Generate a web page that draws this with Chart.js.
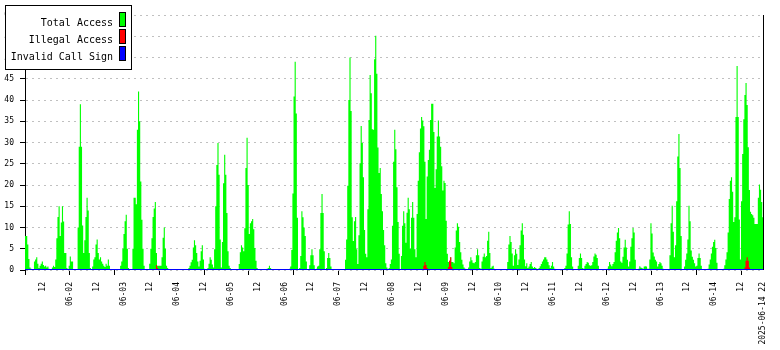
<!DOCTYPE html>
<html>
<head>
<meta charset="utf-8">
<title>Access log</title>
<script src="https://cdn.jsdelivr.net/npm/chart.js@4.4.1/dist/chart.umd.min.js"></script>
<style>
    html, body { margin: 0; padding: 0; background: #fff; }
    #wrap { width: 780px; height: 350px; }
</style>
</head>
<body>
<div id="wrap"><canvas id="accessChart" width="780" height="350"></canvas></div>
<script>
(function () {
    'use strict';

    // Total access, one value per half hour. First bin starts 06-01 04:00.
    const firstBinHour = 4;
    const binHours = 0.5;

    const total0601 = [8, 8, 6, 2.6, 0.6, 0.3, 0, 0, 2, 2.5, 3, 1.5, 0.5, 1, 1.5, 2, 1.2, 0.8, 1, 0.6,
        0.8, 0.3, 0, 0, 0.6, 1, 0.7, 2.5, 7.5, 12.5, 15, 8, 11.2, 15, 11.4, 4, 4, 0.5, 0, 1];
    const total0602 = [3.2, 2, 2, 0, 0, 0, 0, 10, 29, 39, 29, 10.5, 4, 7, 12.5, 17, 14, 4, 0.5, 0,
        0.8, 2.5, 3, 6, 7.2, 4, 2.5, 3, 2, 1.5, 1, 0.7, 1.5, 1, 2.5, 1, 0, 0, 0, 0,
        0, 0, 0, 0, 0, 1, 2, 5];
    const total0603 = [8.5, 11.5, 13, 5, 0.5, 0, 0, 0, 5, 17, 17, 15.5, 33, 42, 35, 20.8, 11.8, 5, 1, 0,
        0, 0, 0, 1.5, 5, 7.5, 12.5, 14.5, 16, 4, 1, 1, 1, 1, 3, 7.6, 10, 5, 1, 0.5,
        0, 0, 0, 0, 0, 0, 0, 0];
    const total0604 = [0, 0, 0, 0, 0, 0, 0, 0, 0, 0, 0.5, 1, 1.8, 2.4, 5.3, 7, 5.8, 4, 2, 0.8,
        2.2, 4.4, 5.8, 2.5, 0.3, 0, 0, 0.5, 1.5, 3, 2.4, 1.3, 0.6, 4.9, 15, 24.7, 29.9, 22.4, 7.2, 0.6,
        6.6, 20.4, 27.1, 22.4, 13.4, 4.4, 1, 0.5];
    const total0605 = [0, 0, 0, 0, 0, 0, 0, 1.4, 4.2, 5.8, 5.3, 4.4, 9.8, 24, 31.1, 20, 8.5, 11, 11.5, 12,
        9.6, 5.2, 2.2, 0.5, 0, 0, 0, 0, 0, 0, 0, 0, 0.3, 0.5, 1, 0.5, 0, 0, 0, 0,
        0, 0, 0, 0, 0, 0, 0, 0];
    const total0606 = [0, 0, 0, 0, 0.3, 0.8, 4.7, 18, 40.8, 49, 36.8, 12.3, 0, 0.5, 3.3, 13.8, 12.4, 10, 8, 2,
        0, 0, 1.1, 3.5, 4.9, 3.5, 1.1, 0, 0.3, 0.8, 1, 4.9, 13.4, 17.9, 13.4, 4.4, 0, 0.5, 2.8, 4,
        2.8, 0.8, 0, 0, 0, 0, 0, 0];
    const total0607 = [0, 0, 0, 0, 0, 0, 2.4, 7.2, 19.8, 40, 50, 37.4, 12.4, 6.8, 11.5, 12.5, 4.9, 1.4, 8.2, 25.1,
        33.9, 29.9, 21.8, 9.4, 3.8, 3, 14.3, 35.3, 45.9, 41.6, 33.1, 33, 49.6, 55.1, 46.2, 28.8, 22.8, 24, 17.9, 13.8,
        9.4, 5.8, 1.6, 0.6, 0, 0.5, 1.4, 2.5];
    const total0608 = [10.4, 25.5, 33, 28.4, 19.5, 11.3, 3.8, 0, 3.3, 10.4, 13.8, 11, 6.4, 13.5, 17, 14.3, 5, 12.3, 16, 12.3,
        4.9, 3, 13.2, 21, 27.7, 33.3, 36, 35.2, 33.8, 25.5, 12, 22, 25.9, 28.3, 35.3, 39.1, 39.1, 32.5, 19.3, 23.7,
        31.4, 35.2, 31.4, 29, 24.4, 18.7, 21, 20.5];
    const total0609 = [11.6, 3.8, 1.9, 2.2, 3, 1.9, 1.9, 1.6, 5.3, 9.3, 11, 10.2, 6.6, 4.2, 2.4, 1.3, 0.6, 0.3, 0, 0,
        0.6, 2, 3, 2.3, 1.7, 1.6, 1.9, 3.5, 4.9, 3.5, 0.5, 0.3, 2, 3.1, 3.9, 3, 3.3, 6.9, 9, 4,
        0.5, 0.8, 1, 0.3, 0, 0, 0, 0];
    const total0610 = [0, 0, 0, 0, 0, 0, 0, 1.9, 6, 8, 6.6, 3.9, 1, 3.5, 4.9, 3.8, 1.2, 2.5, 5.8, 9.3,
        11, 8.3, 2.5, 0.9, 1.6, 0.5, 0.8, 1.4, 1.9, 0.8, 0.5, 0.7, 0.5, 0.3, 0, 0.5, 0.9, 1.4, 2, 2.5,
        3, 3, 2.5, 1.9, 1.1, 0.5, 1, 1.9];
    const total0611 = [0.8, 0.3, 0, 0, 0, 0, 0, 0, 0, 0, 0.5, 1, 3.9, 10.7, 13.8, 10.8, 3, 0.8, 0, 0,
        0, 0, 1, 2.8, 3.9, 2.8, 0.5, 0.3, 1, 1.4, 1.9, 1.7, 1.1, 1, 1.1, 1.9, 3.2, 3.9, 3.6, 2.8,
        1, 0, 0, 0, 0, 0, 0, 0];
    const total0612 = [0.3, 0.9, 1.9, 1.3, 0.9, 1.4, 1.9, 4.2, 6.9, 8.8, 9.9, 7.5, 2, 1.7, 3.1, 5.3, 7.1, 5.3, 2.4, 0.8,
        2, 5.5, 7.5, 9.9, 8.8, 2.4, 0, 0, 0.3, 0.9, 0.6, 0.5, 0.3, 0.8, 0.9, 0.8, 0.3, 0.3, 2.5, 11,
        8.6, 4.1, 3.2, 2.4, 2, 0.8, 1.4, 1.9];
    const total0613 = [1.6, 1, 0.3, 0, 0, 0, 0, 0, 3.5, 11, 15.1, 9, 3, 5.8, 16.2, 26.7, 32, 24, 8, 0,
        0, 0.8, 2.4, 3.9, 7.2, 15.1, 11.5, 4.6, 3.1, 2.4, 1.6, 0.8, 1, 2.8, 3.9, 2.8, 1, 0, 0, 0,
        0, 0, 0.3, 1.3, 2.5, 3.9, 5.5, 6.6];
    const total0614 = [7.1, 5.2, 1.7, 0, 0, 0, 0, 0, 0.3, 1.1, 2.5, 4.2, 8.8, 16.7, 21, 21.8, 18.4, 11.3,
        12.4, 36, 48, 36, 11.9, 2.5, 16.2, 27.3, 35.5, 41.2, 44, 38.8, 28.9, 18.8, 13.7, 13.2, 12.9, 12.3, 10.8, 10.8,
        10.8, 17, 20.1, 18.9, 16, 12.4];

    // Illegal access: only a few short bursts, zero elsewhere
    const illegalHours = [62.5, 63, 63.5, 182, 182.5, 183, 183.5, 184, 193, 193.5, 194, 194.5, 195,
        325.5, 326, 326.5, 327, 327.5, 328];
    const illegalValues = [1.2, 0.5, 0, 1, 1.9, 1.2, 0.5, 0, 0.7, 2.2, 3, 0.7, 0, 0.6, 2.2, 3, 2.2, 0.6, 0];

    // Invalid call sign stays at zero for the whole range
    const invalidHours = [4, 334];
    const invalidValues = [0, 0];

    // X axis: hours since 06-01 00:00
    const labelHours = [12, 24, 36, 48, 60, 72, 84, 96, 108, 120, 132, 144, 156, 168,
        180, 192, 204, 216, 228, 240, 252, 264, 276, 288, 300, 312, 324, 334];
    const labelTexts = ['12', '06-02', '12', '06-03', '12', '06-04', '12', '06-05', '12', '06-06',
        '12', '06-07', '12', '06-08', '12', '06-09', '12', '06-10', '12', '06-11', '12', '06-12',
        '12', '06-13', '12', '06-14', '12', '2025-06-14 22'];
    const tickMarkHours = [4, 24, 44, 64, 84, 104, 124, 144, 164, 184, 204, 224, 244, 264, 284, 304, 324];

    const FONT = 'DejaVu Sans Mono';

    function stepSeries(values, start, width) {
        const pts = values.map((v, i) => ({ x: start + i * width, y: v }));
        pts.push({ x: start + values.length * width, y: values[values.length - 1] });
        return pts;
    }

    function pairSeries(xs, ys) {
        return xs.map((x, i) => ({ x, y: ys[i] }));
    }

    const totalValues = [].concat(total0601, total0602, total0603, total0604, total0605, total0606,
        total0607, total0608, total0609, total0610, total0611, total0612, total0613, total0614);

    const allTicks = Array.from(new Set(labelHours.concat(tickMarkHours))).sort((a, b) => a - b);

    // Legend box in the top-left corner, text right-aligned with a swatch after it
    const boxLegend = {
        id: 'boxLegend',
        afterDraw(chart) {
            const ctx = chart.ctx;
            ctx.save();
            ctx.fillStyle = '#fff';
            ctx.fillRect(5, 5, 126, 64);
            ctx.strokeStyle = '#000';
            ctx.lineWidth = 1;
            ctx.strokeRect(5.5, 5.5, 126, 64);
            ctx.font = '10px "' + FONT + '"';
            ctx.textAlign = 'right';
            ctx.textBaseline = 'alphabetic';
            chart.data.datasets.forEach((ds, i) => {
                const top = 12.5 + i * 17;
                // rrdtool's legend glyphs are a bit taller than DejaVu's
                ctx.save();
                ctx.translate(113, top + 13.3);
                ctx.scale(1, 1.13);
                ctx.fillStyle = '#000';
                ctx.fillText(ds.label, 0, 0);
                ctx.restore();
                ctx.fillStyle = ds.swatch;
                ctx.fillRect(119.5, top, 6, 14);
                ctx.strokeRect(119.5, top, 6, 14);
            });
            ctx.restore();
        }
    };

    // Right edge of the plot frame
    const rightEdge = {
        id: 'rightEdge',
        afterDatasetsDraw(chart) {
            const { ctx, chartArea } = chart;
            const x = Math.round(chartArea.right) + 0.5;
            ctx.save();
            ctx.strokeStyle = '#000';
            ctx.lineWidth = 1;
            ctx.beginPath();
            ctx.moveTo(x, chartArea.top);
            ctx.lineTo(x, chartArea.bottom);
            ctx.stroke();
            ctx.restore();
        }
    };

    new Chart(document.getElementById('accessChart'), {
        type: 'line',
        data: {
            datasets: [{
                label: 'Total Access',
                swatch: '#00ff00',
                data: stepSeries(totalValues, firstBinHour, binHours),
                stepped: true,
                fill: 'origin',
                backgroundColor: '#00ff00',
                borderColor: 'rgba(0,0,0,0)',
                borderWidth: 0,
                pointRadius: 0,
                order: 3
            }, {
                label: 'Illegal Access',
                swatch: '#ff0000',
                data: pairSeries(illegalHours, illegalValues),
                stepped: true,
                fill: 'origin',
                backgroundColor: '#ff0000',
                borderColor: 'rgba(0,0,0,0)',
                borderWidth: 0,
                pointRadius: 0,
                order: 2
            }, {
                label: 'Invalid Call Sign',
                swatch: '#0000ff',
                data: pairSeries(invalidHours, invalidValues),
                fill: false,
                borderColor: '#0000ff',
                borderWidth: 2,
                pointRadius: 0,
                order: 1
            }]
        },
        options: {
            responsive: false,
            animation: false,
            parsing: false,
            normalized: true,
            devicePixelRatio: 1,
            layout: { padding: { top: 15, right: 15, left: 0, bottom: 0 } },
            plugins: {
                legend: { display: false },
                tooltip: { enabled: false }
            },
            scales: {
                x: {
                    type: 'linear',
                    min: 4,
                    max: 334,
                    afterBuildTicks: scale => { scale.ticks = allTicks.map(v => ({ value: v })); },
                    afterFit: scale => { scale.height = 80; },
                    border: { display: false },
                    grid: {
                        drawOnChartArea: false,
                        drawTicks: true,
                        tickLength: 5,
                        tickWidth: 1,
                        tickColor: ctx => tickMarkHours.includes(ctx.tick && ctx.tick.value) ? '#000' : 'rgba(0,0,0,0)'
                    },
                    ticks: {
                        autoSkip: false,
                        minRotation: 90,
                        maxRotation: 90,
                        padding: 7,
                        color: '#000',
                        font: { family: FONT, size: 8 },
                        callback: v => {
                            const i = labelHours.indexOf(v);
                            return i >= 0 ? labelTexts[i] : '';
                        }
                    }
                },
                y: {
                    min: 0,
                    max: 60,
                    afterFit: scale => { scale.width = 25; },
                    border: { display: true, color: '#000', width: 1, dash: [2, 4] },
                    grid: {
                        color: '#c0c0c0',
                        lineWidth: 1,
                        tickLength: 5,
                        tickColor: '#000'
                    },
                    ticks: {
                        stepSize: 5,
                        padding: 6,
                        color: '#000',
                        font: { family: FONT, size: 8 }
                    }
                }
            }
        },
        plugins: [rightEdge, boxLegend]
    });
})();
</script>
</body>
</html>
